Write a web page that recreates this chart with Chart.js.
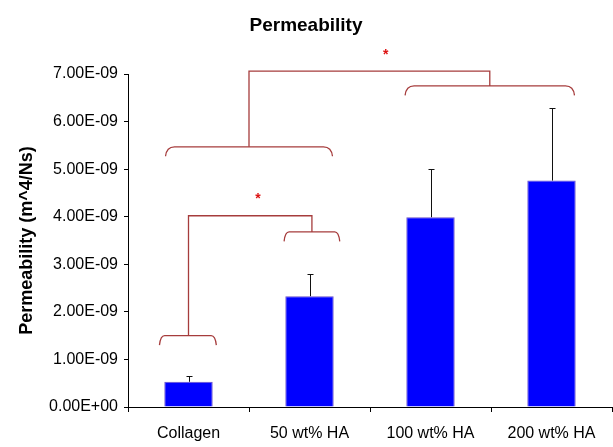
<!DOCTYPE html>
<html>
<head>
<meta charset="utf-8">
<script src="https://cdn.jsdelivr.net/npm/chart.js@4"></script>
<style>
  html, body { margin: 0; padding: 0; background: #fff; }
  #wrap { width: 613px; height: 447px; }
</style>
</head>
<body>
<div id="wrap"><canvas id="myChart"></canvas></div>
<script>
// values
var groups = ['Collagen', '50 wt% HA', '100 wt% HA', '200 wt% HA'];
var permeability = [0.53e-9, 2.33e-9, 3.99e-9, 4.76e-9];
var errUp = [0.13e-9, 0.47e-9, 1.01e-9, 1.53e-9];
var yTickValues = [0, 1e-9, 2e-9, 3e-9, 4e-9, 5e-9, 6e-9, 7e-9];
var yTickLabels = ['0.00E+00', '1.00E-09', '2.00E-09', '3.00E-09', '4.00E-09', '5.00E-09', '6.00E-09', '7.00E-09'];

// significance braces (category units, value level)
var braces = [
  { from: -0.24, to: 0.23, at: 1.50e-9 },
  { from: 0.79, to: 1.25, at: 3.68e-9 },
  { from: -0.19, to: 1.19, at: 5.47e-9 },
  { from: 1.79, to: 3.19, at: 6.75e-9 }
];
var links = [
  { x1: 0, y1: 1.50e-9, x2: 1.02, y2: 3.68e-9, top: 4.02e-9 },
  { x1: 0.5, y1: 5.47e-9, x2: 2.49, y2: 6.75e-9, top: 7.06e-9 }
];
var stars = [
  { x: 0.574, y: 4.43e-9 },
  { x: 1.63, y: 7.47e-9 }
];

var FONT = 'Arial, "Liberation Sans", sans-serif';

// upper error bars
var errorBars = {
  id: 'errorBars',
  afterDatasetsDraw: function (chart) {
    var ctx = chart.ctx, y = chart.scales.y;
    var meta = chart.getDatasetMeta(0);
    ctx.save();
    ctx.strokeStyle = '#111';
    ctx.lineWidth = 1;
    meta.data.forEach(function (bar, i) {
      var x = Math.round(bar.x) + 0.5;
      var yt = Math.round(y.getPixelForValue(permeability[i] + errUp[i])) + 0.5;
      ctx.beginPath();
      ctx.moveTo(x, bar.y);
      ctx.lineTo(x, yt);
      ctx.moveTo(x - 3, yt);
      ctx.lineTo(x + 3, yt);
      ctx.stroke();
    });
    ctx.restore();
  }
};

// brackets and stars
var signif = {
  id: 'signif',
  afterDraw: function (chart) {
    var ctx = chart.ctx, xs = chart.scales.x, ys = chart.scales.y;
    ctx.save();
    ctx.strokeStyle = '#a63c3c';
    ctx.lineWidth = 1.3;
    braces.forEach(function (b) {
      var x1 = xs.getPixelForValue(b.from), x2 = xs.getPixelForValue(b.to);
      var yy = ys.getPixelForValue(b.at);
      var r = Math.min(9, (x2 - x1) * 0.09), drop = 9.5;
      ctx.beginPath();
      ctx.moveTo(x1, yy + drop);
      ctx.quadraticCurveTo(x1 + 1, yy, x1 + r, yy);
      ctx.lineTo(x2 - r, yy);
      ctx.quadraticCurveTo(x2 - 1, yy, x2, yy + drop);
      ctx.stroke();
    });
    links.forEach(function (l) {
      var xa = xs.getPixelForValue(l.x1), xb = xs.getPixelForValue(l.x2);
      ctx.beginPath();
      ctx.moveTo(xa, ys.getPixelForValue(l.y1));
      ctx.lineTo(xa, ys.getPixelForValue(l.top));
      ctx.lineTo(xb, ys.getPixelForValue(l.top));
      ctx.lineTo(xb, ys.getPixelForValue(l.y2));
      ctx.stroke();
    });
    ctx.fillStyle = '#dd1111';
    ctx.font = 'bold 14px ' + FONT;
    ctx.textAlign = 'center';
    ctx.textBaseline = 'middle';
    stars.forEach(function (s) {
      ctx.fillText('*', xs.getPixelForValue(s.x), ys.getPixelForValue(s.y) + 3);
    });
    ctx.restore();
  }
};

var ctx = document.getElementById('myChart').getContext('2d');
var myChart = new Chart(ctx, {
  type: 'bar',
  data: {
    labels: groups,
    datasets: [{
      data: permeability,
      backgroundColor: '#0000ff',
      borderColor: '#6a4fc8',
      borderWidth: 1,
      barPercentage: 0.4,
      categoryPercentage: 1
    }]
  },
  options: {
    responsive: true,
    maintainAspectRatio: false,
    animation: false,
    layout: { padding: { left: 0, right: 1, top: 0, bottom: 0 } },
    plugins: {
      legend: { display: false },
      tooltip: { enabled: false },
      title: {
        display: true,
        text: 'Permeability',
        color: '#000',
        font: { family: FONT, size: 19, weight: 'bold' },
        padding: { top: 14, bottom: 37.2 }
      }
    },
    scales: {
      x: {
        grid: { drawOnChartArea: false, drawTicks: true, tickLength: 5, color: '#000' },
        border: { display: true, color: '#000', width: 1 },
        ticks: { color: '#000', padding: 12, maxRotation: 0, font: { family: FONT, size: 16 } },
        afterFit: function (s) { s.height = 40; }
      },
      y: {
        min: 0,
        max: 7e-9,
        grid: { drawOnChartArea: false, drawTicks: true, tickLength: 4, color: '#000' },
        border: { display: true, color: '#000', width: 1 },
        afterBuildTicks: function (s) {
          s.ticks = yTickValues.map(function (v) { return { value: v }; });
        },
        ticks: {
          color: '#000',
          padding: 6,
          font: { family: FONT, size: 16 },
          callback: function (v, i) { return yTickLabels[i]; }
        },
        title: {
          display: true,
          text: 'Permeability (m^4/Ns)',
          color: '#000',
          font: { family: FONT, size: 18, weight: 'bold' },
          padding: { top: 16, bottom: 0 }
        },
        afterFit: function (s) { s.width = 128; }
      }
    }
  },
  plugins: [errorBars, signif]
});
</script>
</body>
</html>
